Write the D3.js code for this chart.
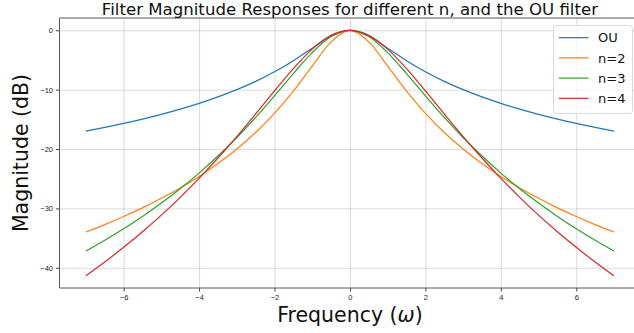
<!DOCTYPE html>
<meta charset="utf-8">
<style>
body { margin: 0; background: #fff; }
svg { font-family: "DejaVu Sans", sans-serif; display: block; }
.tick text { font-size: 7.5px; fill: #222; }
.tick line { stroke: #444; }
.domain { display: none; }
.grid line { stroke: #b0b0b0; stroke-opacity: 0.6; stroke-width: 0.8; }
.grid text, .grid .domain { display: none; }
</style>
<svg width="634" height="333"></svg>
<script src="https://d3js.org/d3.v7.min.js"></script>
<script>

// frequency samples (omega)
var omega = [-7,-6.5,-6,-5.5,-5,-4.5,-4,-3.5,-3,-2.5,-2,-1.5,-1,-0.5,0,0.5,1,1.5,2,2.5,3,3.5,4,4.5,5,5.5,6,6.5,7];

// magnitudes in dB
var ou = [-16.99,-16.36,-15.68,-14.95,-14.15,-13.27,-12.30,-11.22,-10.00,-8.60,-6.99,-5.12,-3.01,-0.97,0,
          -0.97,-3.01,-5.12,-6.99,-8.60,-10.00,-11.22,-12.30,-13.27,-14.15,-14.95,-15.68,-16.36,-16.99];
var n2 = [-33.98,-32.72,-31.36,-29.90,-28.30,-26.55,-24.61,-22.44,-20.00,-17.21,-13.98,-10.24,-6.02,-1.94,0,
          -1.94,-6.02,-10.24,-13.98,-17.21,-20.00,-22.44,-24.61,-26.55,-28.30,-29.90,-31.36,-32.72,-33.98];
var n3 = [-37.17,-35.35,-33.42,-31.34,-29.10,-26.68,-24.05,-21.18,-18.06,-14.67,-11.04,-7.29,-3.75,-1.04,0,
          -1.04,-3.75,-7.29,-11.04,-14.67,-18.06,-21.18,-24.05,-26.68,-29.10,-31.34,-33.42,-35.35,-37.17];
var n4 = [-41.34,-39.02,-36.55,-33.93,-31.13,-28.13,-24.93,-21.51,-17.89,-14.09,-10.21,-6.45,-3.17,-0.85,0,
          -0.85,-3.17,-6.45,-10.21,-14.09,-17.89,-21.51,-24.93,-28.13,-31.13,-33.93,-36.55,-39.02,-41.34];

var seriesNames = ["OU", "n=2", "n=3", "n=4"];
var seriesValues = [ou, n2, n3, n4];
var colors = ["#1f77b4", "#ff7f0e", "#2ca02c", "#d62728"];

var xTicks = [-6, -4, -2, 0, 2, 4, 6];
var yTicks = [0, -10, -20, -30, -40];

var svg = d3.select("svg");
var pLeft = 59.5, pRight = 640.4, pTop = 18, pBottom = 288;

var x = d3.scaleLinear().domain([-7.7, 7.7]).range([pLeft, pRight]);
var y = d3.scaleLinear().domain([-43.4, 2.07]).range([pBottom, pTop]);

// grid
svg.append("g").attr("class", "grid")
    .attr("transform", "translate(0," + pBottom + ")")
    .call(d3.axisBottom(x).tickValues(xTicks).tickSize(-(pBottom - pTop)));
svg.append("g").attr("class", "grid")
    .attr("transform", "translate(" + pLeft + ",0)")
    .call(d3.axisLeft(y).tickValues(yTicks).tickSize(-(pRight - pLeft)));

// lines
var line = d3.line()
    .x((d, i) => x(omega[i]))
    .y(d => y(d))
    .curve(d3.curveMonotoneX);

svg.append("g").selectAll("path")
  .data(seriesValues)
  .enter().append("path")
    .attr("fill", "none")
    .attr("stroke", (d, i) => colors[i])
    .attr("stroke-width", 1.2)
    .attr("d", line);

// axes
svg.append("g")
    .attr("transform", "translate(0," + pBottom + ")")
    .call(d3.axisBottom(x).tickValues(xTicks).tickSize(3.5).tickPadding(3));
svg.append("g")
    .attr("transform", "translate(" + pLeft + ",0)")
    .call(d3.axisLeft(y).tickValues(yTicks).tickSize(3.5).tickPadding(3));

// spines
svg.append("path")
    .attr("d", "M" + pRight + "," + pTop + "H" + pLeft + "V" + pBottom + "H" + pRight)
    .attr("fill", "none")
    .attr("stroke", "#555")
    .attr("stroke-width", 1);

// title and labels
svg.append("text")
    .attr("x", (pLeft + pRight) / 2).attr("y", 14.8)
    .attr("text-anchor", "middle")
    .style("font-size", "16.6px").style("fill", "#111")
    .text("Filter Magnitude Responses for different n, and the OU filter");

var xl = svg.append("text")
    .attr("x", (pLeft + pRight) / 2).attr("y", 321.5)
    .attr("text-anchor", "middle")
    .style("font-size", "20.5px").style("fill", "#111");
xl.append("tspan").text("Frequency (");
xl.append("tspan").style("font-style", "italic").text("ω");
xl.append("tspan").text(")");

svg.append("text")
    .attr("transform", "translate(28.3," + (pTop + pBottom) / 2 + ") rotate(-90)")
    .attr("text-anchor", "middle")
    .style("font-size", "20.5px").style("fill", "#111")
    .text("Magnitude (dB)");

// legend
var legend = svg.append("g");
legend.append("rect")
    .attr("x", 553.5).attr("y", 25.5).attr("width", 79).attr("height", 88)
    .attr("rx", 3)
    .attr("fill", "#fff").attr("fill-opacity", 0.8)
    .attr("stroke", "#d0d0d0").attr("stroke-width", 0.8);

var item = legend.selectAll("g.item")
  .data(seriesNames)
  .enter().append("g")
    .attr("class", "item")
    .attr("transform", (d, i) => "translate(0," + (37.7 + i * 20.2) + ")");
item.append("line")
    .attr("x1", 559).attr("x2", 588.5)
    .attr("stroke", (d, i) => colors[i])
    .attr("stroke-width", 1.2);
item.append("text")
    .attr("x", 598).attr("y", 4.7)
    .style("font-size", "13px").style("fill", "#111")
    .text(d => d);

</script>
